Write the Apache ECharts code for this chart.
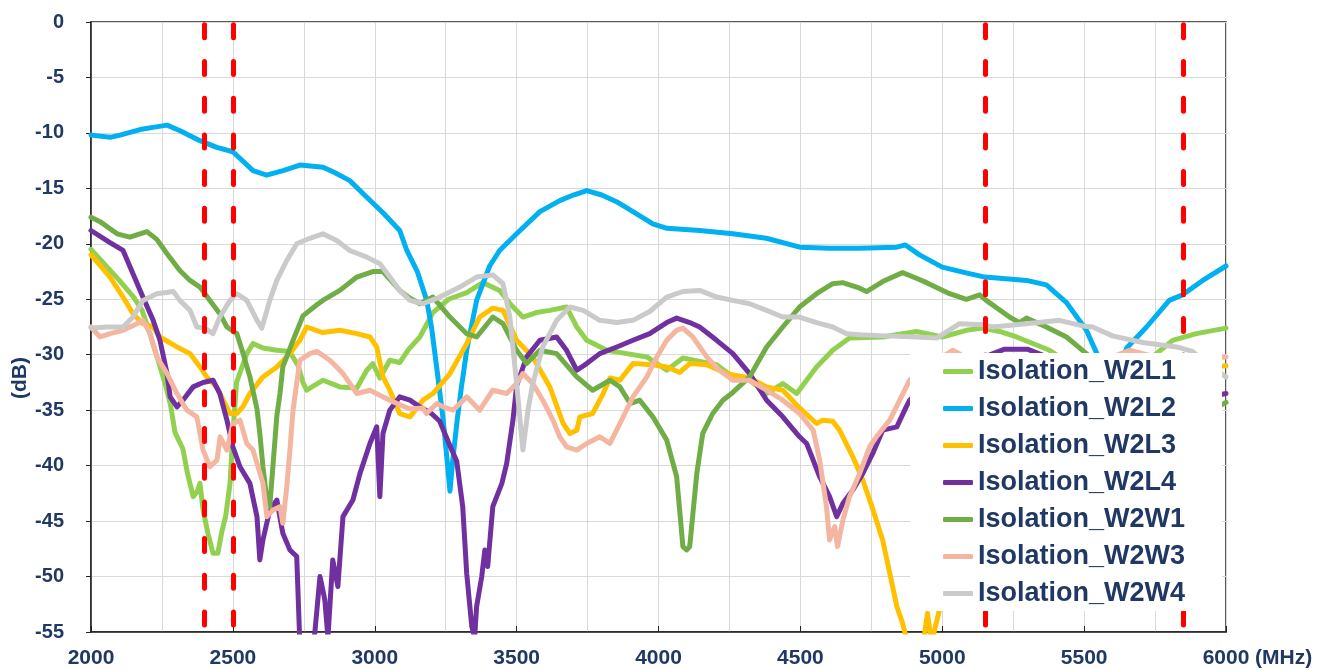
<!DOCTYPE html>
<html>
<head>
<meta charset="utf-8">
<script src="https://cdn.jsdelivr.net/npm/echarts@6/dist/echarts.min.js"></script>
<style>
  html, body { margin: 0; padding: 0; background: #fff; }
  #chart { width: 1331px; height: 670px; }
</style>
</head>
<body>
<div id="chart"></div>
<script>
// frequency (MHz), isolation (dB)
const seriesNames = ["Isolation_W2L1", "Isolation_W2L2", "Isolation_W2L3", "Isolation_W2L4", "Isolation_W2W1", "Isolation_W2W3", "Isolation_W2W4"];
const seriesColors = ["#92D050", "#00B0F0", "#FFC000", "#7030A0", "#70AD47", "#F4B6A0", "#CACACA"];
const bandEdges = [2400, 2500, 5150, 5850];
const xTicks = { min: 2000, max: 6000, step: 500 };
const yTicks = { min: -55, max: 0, step: 5 };

const w2l1 = [[2000,-20.5],[2050,-21.9],[2100,-23.3],[2150,-24.8],[2180,-26],[2210,-28.3],[2240,-30.8],[2260,-32.5],[2280,-34.5],[2296,-37],[2324,-38.5],[2340,-40.7],[2360,-42.8],[2375,-42.3],[2384,-41.6],[2395,-44],[2412,-46.1],[2430,-47.9],[2447,-47.9],[2460,-46.1],[2475,-44.5],[2490,-41.6],[2500,-37.1],[2513,-32.5],[2549,-29.9],[2571,-29],[2606,-29.4],[2655,-29.6],[2700,-29.7],[2730,-31],[2747,-32.5],[2760,-33.2],[2818,-32.3],[2877,-32.9],[2937,-33],[2972,-31.4],[2993,-30.8],[3018,-32.1],[3053,-30.5],[3088,-30.7],[3120,-29.5],[3159,-28.4],[3205,-26.2],[3260,-25],[3324,-24.4],[3381,-23.5],[3440,-24.2],[3480,-25.5],[3522,-26.6],[3570,-26.2],[3617,-26],[3676,-25.7],[3712,-27.5],[3747,-28.7],[3818,-29.6],[3888,-29.9],[3959,-30.2],[4029,-31.4],[4086,-30.3],[4145,-30.6],[4205,-30.9],[4262,-32],[4321,-32.3],[4381,-33.5],[4438,-32.6],[4487,-33.5],[4557,-31.1],[4614,-29.6],[4673,-28.5],[4790,-28.4],[4909,-27.9],[5000,-28.4],[5085,-27.8],[5142,-27.6],[5202,-27.9],[5262,-28.4],[5378,-29.6],[5450,-30.8],[5550,-31.5],[5650,-31],[5750,-30],[5812,-28.7],[5895,-28.1],[6000,-27.6]];

const w2l2 = [[2000,-10.2],[2067,-10.4],[2102,-10.2],[2173,-9.7],[2218,-9.5],[2268,-9.3],[2314,-9.8],[2384,-10.7],[2443,-11.3],[2500,-11.7],[2571,-13.4],[2619,-13.8],[2677,-13.4],[2736,-12.9],[2818,-13.1],[2860,-13.6],[2912,-14.3],[2972,-15.8],[3029,-17.2],[3088,-18.8],[3113,-20.6],[3150,-22.5],[3183,-25.1],[3200,-27.5],[3218,-31.1],[3240,-35.6],[3255,-39.5],[3265,-42.3],[3275,-39.5],[3290,-36],[3305,-33],[3324,-29.6],[3359,-25.1],[3405,-22],[3440,-20.6],[3500,-19.1],[3582,-17.1],[3652,-16.1],[3700,-15.6],[3747,-15.2],[3800,-15.6],[3852,-16.2],[3910,-17.1],[3980,-18.2],[4030,-18.6],[4145,-18.8],[4262,-19.1],[4380,-19.5],[4498,-20.3],[4600,-20.4],[4710,-20.4],[4840,-20.3],[4870,-20.1],[4920,-21],[5000,-22.1],[5080,-22.6],[5150,-23],[5297,-23.3],[5367,-23.7],[5438,-25.3],[5508,-27.8],[5545,-29.9],[5575,-31.2],[5600,-31.8],[5625,-31],[5650,-29.4],[5720,-27.5],[5800,-25.1],[5847,-24.6],[5918,-23.3],[6000,-22]];

const w2l3 = [[2000,-21],[2067,-23],[2113,-24.8],[2148,-26.3],[2183,-27.2],[2219,-27.5],[2243,-28.4],[2303,-29.3],[2349,-29.9],[2384,-31.1],[2408,-32],[2443,-32.9],[2466,-34.1],[2490,-35.3],[2514,-35.3],[2535,-34.7],[2560,-33.5],[2606,-32],[2655,-31.1],[2700,-29.9],[2736,-28.7],[2760,-27.5],[2817,-28],[2877,-27.8],[2937,-28.1],[2983,-28.4],[3007,-29.3],[3029,-32],[3053,-33.2],[3088,-35.3],[3124,-35.6],[3170,-34.1],[3205,-33.5],[3265,-31.7],[3324,-29],[3370,-26.6],[3416,-25.8],[3452,-26],[3500,-28.7],[3557,-30.2],[3617,-32.9],[3664,-36.2],[3688,-37.1],[3712,-36.8],[3723,-35.6],[3768,-35.3],[3805,-33.5],[3829,-32.1],[3864,-32.3],[3910,-30.8],[3980,-30.9],[4029,-31.1],[4075,-31.6],[4110,-30.8],[4170,-30.9],[4240,-31.7],[4321,-32.1],[4381,-32.9],[4438,-33.2],[4497,-34.8],[4557,-36.2],[4579,-35.9],[4614,-36],[4638,-36.8],[4685,-39.2],[4720,-41.3],[4755,-43.9],[4790,-46.7],[4815,-49.7],[4840,-52.7],[4860,-54.2],[4873,-55.5],[4900,-57],[4930,-56.5],[4948,-53.3],[4962,-56],[4990,-53],[5050,-50],[5150,-46],[5250,-42],[5350,-38.5],[5450,-36],[5550,-34.2],[5650,-33],[5750,-32],[5850,-31.5],[5950,-31.1],[6000,-31]];

const w2l4 = [[2000,-18.8],[2067,-19.9],[2113,-20.6],[2148,-22.7],[2183,-24.8],[2219,-26.9],[2243,-28.7],[2268,-31.7],[2279,-33.8],[2303,-34.7],[2324,-34.1],[2360,-32.9],[2395,-32.5],[2430,-32.3],[2454,-33.5],[2479,-35.9],[2500,-38.3],[2525,-40.1],[2560,-41.6],[2585,-44.6],[2595,-48.5],[2606,-46.7],[2630,-44],[2655,-43.1],[2676,-46.1],[2701,-47.6],[2725,-48.2],[2736,-56],[2760,-60],[2780,-57],[2789,-55],[2807,-50],[2824,-52.1],[2835,-55.5],[2852,-48.5],[2870,-50.9],[2888,-44.6],[2923,-43.1],[2948,-40.7],[2983,-38],[3007,-36.5],[3018,-42.8],[3029,-37.1],[3053,-35],[3088,-33.8],[3124,-34.1],[3159,-34.7],[3200,-35.3],[3229,-36],[3265,-38.2],[3289,-39.6],[3310,-43.7],[3324,-49.7],[3342,-54.5],[3352,-55.5],[3359,-52.7],[3377,-50],[3388,-47.6],[3398,-49.1],[3416,-43.7],[3448,-41.6],[3465,-39.8],[3487,-35.9],[3500,-32.8],[3535,-30.2],[3582,-28.7],[3641,-28.4],[3676,-29.6],[3712,-31.4],[3747,-30.8],[3793,-29.9],[3853,-29.3],[3910,-28.7],[3969,-28.1],[4029,-27.1],[4064,-26.7],[4110,-27.1],[4145,-27.5],[4205,-28.7],[4262,-29.9],[4321,-31.7],[4381,-34.1],[4438,-35.6],[4497,-37.4],[4522,-38],[4568,-41],[4603,-42.8],[4628,-44.6],[4650,-43.4],[4685,-42.2],[4720,-40.7],[4755,-38.9],[4790,-36.8],[4840,-36.5],[4873,-34.7],[4885,-34.1],[4950,-32.5],[5050,-31],[5150,-30.2],[5220,-29.5],[5300,-29.5],[5380,-30.3],[5500,-31.5],[5600,-33],[5700,-34],[5800,-34.5],[5900,-34],[6000,-33.5]];

const w2w1 = [[2000,-17.6],[2032,-18],[2092,-19.1],[2137,-19.4],[2197,-18.9],[2232,-19.6],[2268,-20.9],[2313,-22.4],[2349,-23.3],[2384,-23.9],[2419,-25.1],[2454,-26.3],[2479,-27.5],[2514,-28.1],[2535,-29.8],[2560,-32],[2585,-34.9],[2595,-37.1],[2606,-40.1],[2620,-43.1],[2630,-43.7],[2641,-40.1],[2655,-35.5],[2666,-33.5],[2676,-31.1],[2712,-28.7],[2747,-26.5],[2796,-25.5],[2817,-25.1],[2877,-24.2],[2937,-23],[2993,-22.5],[3029,-22.5],[3088,-24.2],[3124,-24.9],[3159,-25.4],[3205,-24.8],[3265,-26.6],[3324,-28.1],[3359,-28.4],[3416,-26.6],[3452,-27.2],[3500,-29.6],[3535,-30.8],[3582,-29.6],[3641,-29.9],[3712,-32],[3768,-33.2],[3829,-32.3],[3864,-32.9],[3900,-34.4],[3934,-34.1],[3980,-35.6],[4029,-37.7],[4064,-41],[4086,-47.3],[4099,-47.6],[4110,-47.3],[4135,-40.7],[4156,-37.1],[4191,-35.3],[4227,-34.1],[4262,-33.4],[4321,-32],[4381,-29.3],[4438,-27.5],[4497,-25.7],[4557,-24.5],[4614,-23.6],[4649,-23.5],[4709,-24],[4733,-24.3],[4790,-23.4],[4860,-22.6],[4909,-23.1],[4945,-23.5],[5026,-24.5],[5085,-25],[5132,-24.6],[5155,-25.1],[5237,-26.6],[5272,-27.1],[5297,-26.7],[5367,-27.5],[5438,-28.4],[5508,-29.9],[5560,-31.2],[5650,-32.8],[5750,-34],[5850,-35],[5950,-35],[6000,-34.3]];

const w2w3 = [[2000,-27.5],[2032,-28.4],[2067,-28.1],[2113,-27.8],[2162,-27.2],[2183,-26.9],[2208,-28.1],[2232,-30.2],[2268,-31.7],[2303,-33.5],[2338,-35],[2373,-35.6],[2395,-38.6],[2419,-40.1],[2444,-39.5],[2455,-37.4],[2479,-38.6],[2500,-36.2],[2525,-35.9],[2549,-38],[2571,-38.6],[2606,-41.6],[2620,-44.6],[2641,-44],[2666,-43.7],[2676,-45.2],[2690,-41.9],[2701,-38.6],[2712,-35],[2736,-30.5],[2771,-29.9],[2796,-29.7],[2842,-30.5],[2888,-31.7],[2937,-33.5],[2983,-33.2],[3029,-33.8],[3078,-34.4],[3124,-34.9],[3170,-34.8],[3182,-35.3],[3219,-34.4],[3241,-34.7],[3276,-35],[3324,-33.8],[3370,-35],[3416,-33.2],[3465,-33.5],[3500,-32.6],[3522,-31.7],[3557,-32.6],[3592,-34.1],[3628,-35.9],[3652,-37.4],[3676,-38.3],[3712,-38.6],[3747,-38],[3793,-37.4],[3829,-38],[3864,-36.2],[3910,-33.8],[3959,-32],[3994,-30.2],[4029,-28.7],[4064,-27.8],[4086,-27.6],[4121,-28.4],[4170,-30.2],[4215,-31.4],[4262,-32.3],[4321,-32.3],[4381,-33.2],[4438,-34.1],[4497,-35.3],[4545,-36.8],[4568,-39.5],[4592,-43.7],[4603,-46.7],[4621,-45.5],[4631,-47.3],[4650,-44.9],[4673,-42.8],[4709,-40.7],[4744,-38.3],[4768,-37.4],[4815,-35.9],[4850,-34.1],[4885,-32.3],[4950,-31],[5037,-29.6],[5100,-30.5],[5200,-31],[5300,-31.2],[5400,-31.2],[5500,-31],[5600,-30.2],[5660,-29.6],[5720,-30],[5800,-30.4],[5900,-30.3],[6000,-30.2]];

const w2w4 = [[2000,-27.6],[2056,-27.5],[2113,-27.5],[2148,-26.6],[2183,-25.1],[2232,-24.5],[2290,-24.3],[2313,-25.1],[2349,-26],[2373,-27.5],[2401,-27.6],[2430,-28.1],[2454,-26.6],[2490,-25.1],[2514,-24.5],[2549,-25.1],[2585,-26.9],[2602,-27.6],[2630,-25.1],[2655,-23.3],[2690,-21.5],[2725,-20],[2771,-19.5],[2817,-19.1],[2866,-19.7],[2912,-20.6],[2972,-21.2],[3018,-21.8],[3053,-23],[3088,-24.2],[3124,-25.1],[3170,-25.4],[3229,-24.8],[3300,-23.9],[3359,-23],[3416,-22.8],[3452,-23.6],[3476,-26.6],[3500,-32.6],[3522,-38.6],[3540,-35],[3557,-32.6],[3592,-29.3],[3641,-26.9],[3688,-25.7],[3735,-26],[3793,-26.9],[3853,-27.1],[3910,-26.9],[3969,-26.1],[4029,-24.8],[4086,-24.3],[4145,-24.2],[4205,-24.8],[4262,-25.1],[4321,-25.4],[4381,-26],[4438,-26.6],[4497,-26.6],[4557,-27.1],[4614,-27.5],[4663,-28.1],[4709,-28.2],[4800,-28.3],[4909,-28.4],[4980,-28.5],[5061,-27.2],[5142,-27.3],[5177,-27.5],[5297,-27.2],[5413,-26.9],[5494,-27.4],[5530,-27.5],[5600,-28.3],[5706,-28.9],[5826,-29.3],[5882,-29.7],[5940,-31],[6000,-32]];

const seriesData = [w2l1, w2l2, w2l3, w2l4, w2w1, w2w3, w2w4];

const labelColor = "#1F3864";
const fontFamily = "'Liberation Sans', Arial, sans-serif";

let myChart = echarts.init(document.getElementById("chart"));

let series = seriesNames.map((name, i) => ({
  name: name,
  type: "line",
  data: seriesData[i],
  showSymbol: false,
  symbol: "none",
  clip: true,
  lineStyle: { color: seriesColors[i], width: 5, join: "round", cap: "round" },
  itemStyle: { color: seriesColors[i] },
  emphasis: { disabled: true },
}));

// red dashed band edges, drawn on top of the curves
series[series.length - 1].markLine = {
  silent: true,
  symbol: ["none", "none"],
  label: { show: false },
  lineStyle: { color: "#FF0000", width: 5, type: [13, 23.7], dashOffset: 29.7, cap: "round" },
  emphasis: { disabled: true },
  data: bandEdges.map((v) => ({ xAxis: v })),
};

let options = {
  animation: false,
  grid: {
    left: 91,
    top: 22,
    width: 1135,
    height: 610,
    show: true,
    borderColor: "#222",
    borderWidth: 1.5,
    backgroundColor: "transparent",
  },
  legend: {
    data: seriesNames,
    orient: "vertical",
    left: 910,
    top: 353,
    z: 10,
    backgroundColor: "#fff",
    padding: [5, 37, 4, 33],
    itemGap: 10,
    itemWidth: 30,
    itemHeight: 5,
    icon: "roundRect",
    selectedMode: false,
    textStyle: {
      color: labelColor,
      fontSize: 27,
      lineHeight: 27,
      fontWeight: "bold",
      fontFamily: fontFamily,
    },
  },
  xAxis: {
    type: "value",
    min: xTicks.min,
    max: xTicks.max,
    interval: xTicks.step,
    axisLine: { show: true, onZero: false, lineStyle: { color: "#222", width: 1.5 } },
    axisTick: { show: true, inside: true, length: 6, lineStyle: { color: "#222" } },
    minorTick: { show: false, splitNumber: 2 },
    axisLabel: {
      color: labelColor,
      fontSize: 21,
      fontWeight: "bold",
      fontFamily: fontFamily,
      margin: 16,
      formatter: (v) => String(v),
    },
    splitLine: { show: true, lineStyle: { color: "#D9D9D9", width: 1 } },
    minorSplitLine: { show: true, lineStyle: { color: "#D9D9D9", width: 1 } },
  },
  yAxis: {
    type: "value",
    min: yTicks.min,
    max: yTicks.max,
    interval: yTicks.step,
    axisLine: { show: true, onZero: false, lineStyle: { color: "#222", width: 1.5 } },
    axisTick: { show: true, inside: false, length: 5, lineStyle: { color: "#222" } },
    axisLabel: {
      color: labelColor,
      fontSize: 20,
      fontWeight: "bold",
      fontFamily: fontFamily,
      margin: 27,
    },
    splitLine: { show: true, lineStyle: { color: "#D9D9D9", width: 1 } },
  },
  graphic: [
    {
      type: "text",
      x: 20,
      y: 378,
      rotation: Math.PI / 2,
      style: {
        text: "(dB)",
        fill: labelColor,
        font: "bold 21px " + fontFamily,
        align: "center",
        verticalAlign: "middle",
      },
    },
    {
      type: "text",
      x: 1255,
      y: 658,
      style: {
        text: "(MHz)",
        fill: labelColor,
        font: "bold 21px " + fontFamily,
        align: "left",
        verticalAlign: "middle",
      },
    },
  ],
  series: series,
};

myChart.setOption(options);
window.addEventListener("resize", function () {
  myChart.resize();
});
</script>
</body>
</html>
